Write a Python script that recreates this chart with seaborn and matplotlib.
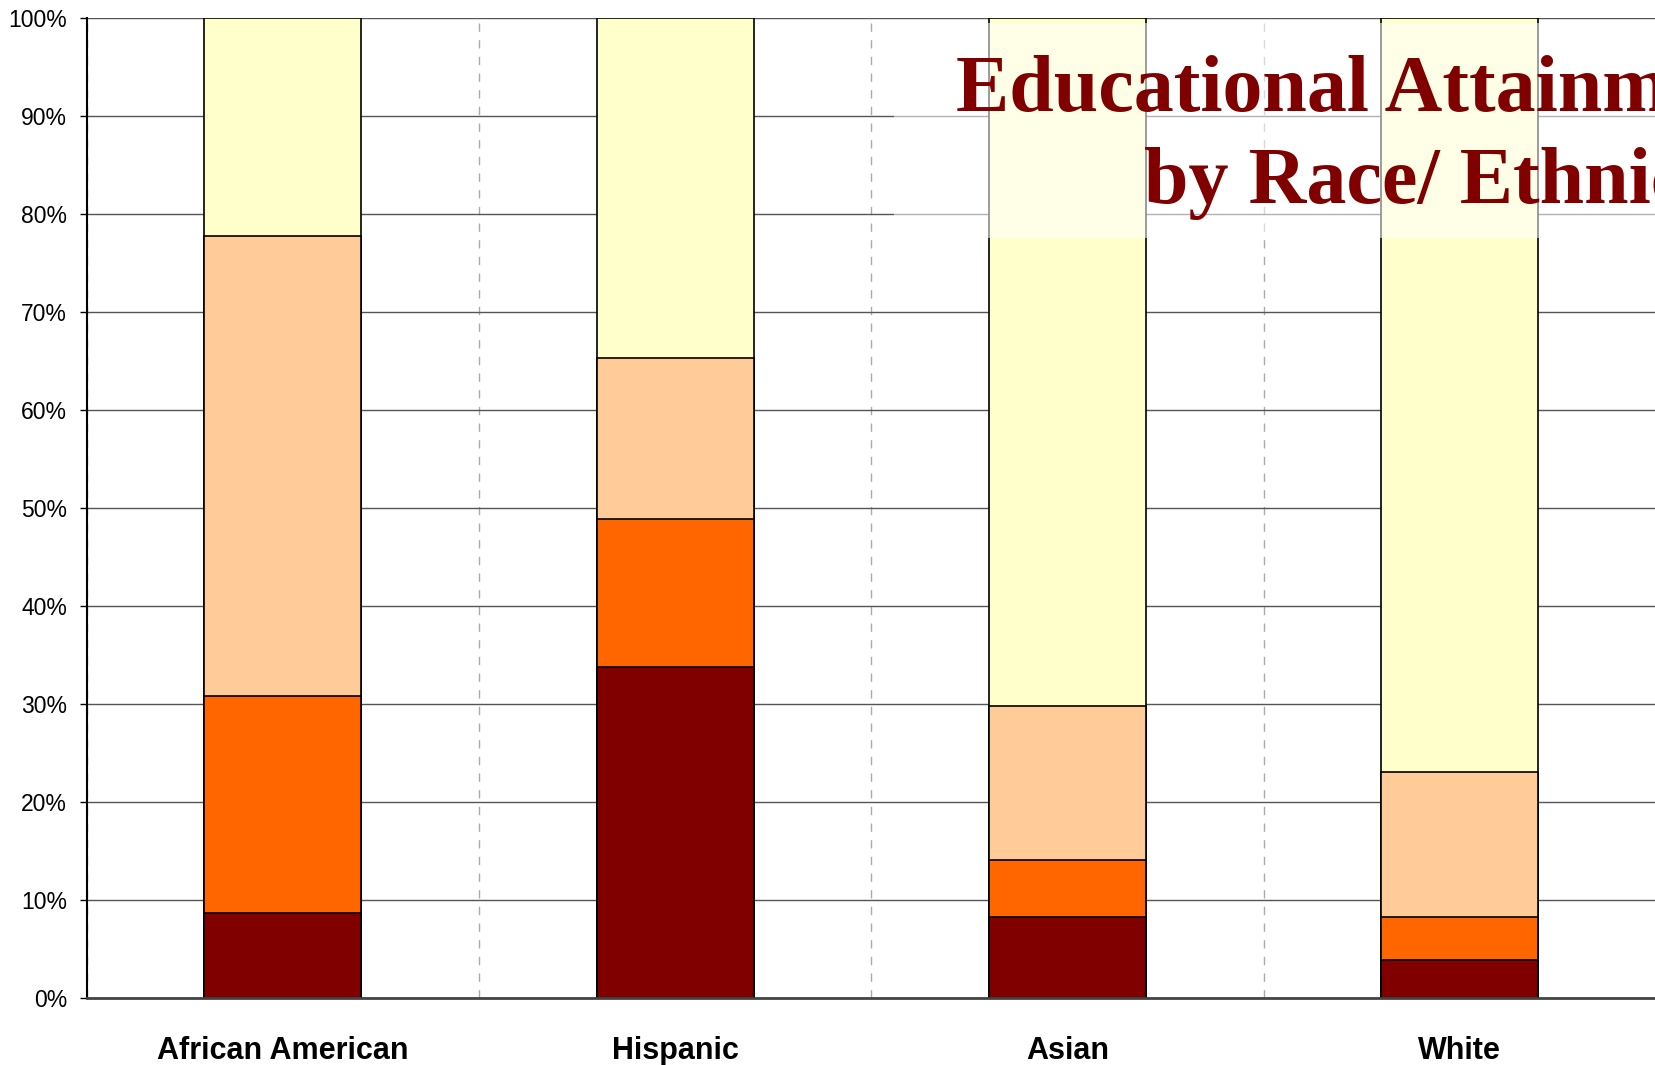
import numpy as np
import pandas as pd
import seaborn as sns
import matplotlib.pyplot as plt
from matplotlib.patches import Rectangle

# data (percent of each group)
groups = ['African American', 'Hispanic', 'Asian', 'White']
less_than_hs = [8.7, 33.8, 8.3, 3.9]
hs_grad = [22.1, 15.1, 5.8, 4.4]
some_college = [47.0, 16.4, 15.7, 14.8]
ba_plus = [22.2, 34.7, 70.2, 76.9]

series = [less_than_hs, hs_grad, some_college, ba_plus]
colors = ['#800000', '#FF6600', '#FFCC99', '#FFFFCC']
yticks = [0, 10, 20, 30, 40, 50, 60, 70, 80, 90, 100]

sns.set_style('white')
plt.rcParams['font.family'] = ['Liberation Sans', 'DejaVu Sans']
plt.rcParams['text.color'] = 'black'
plt.rcParams['xtick.labelcolor'] = 'black'
plt.rcParams['ytick.labelcolor'] = 'black'

fig = plt.figure(figsize=(16.56, 10.65), dpi=100)
ax = fig.add_axes([0.0523, 0.0629, 0.9477, 0.9201])

# stacked bars: draw cumulative totals from the top layer down
cum = np.cumsum(np.array(series), axis=0)
for i in range(len(series) - 1, -1, -1):
    df = pd.DataFrame({'group': groups, 'value': cum[i]})
    sns.barplot(data=df, x='group', y='value', color=colors[i], saturation=1,
                width=0.4, edgecolor='black', linewidth=1.2, ax=ax, zorder=3)

ax.set_xlim(-0.5, len(groups) - 0.5)
ax.set_ylim(0, 100)
ax.set_yticks(yticks)
ax.set_yticklabels([f'{t}%' for t in yticks], fontsize=16.5)
ax.set_xticks(range(len(groups)))
ax.set_xticklabels(groups, fontsize=22, fontweight='bold')
ax.set_xticks(np.arange(-0.5, len(groups), 1.0), minor=True)
ax.tick_params(axis='x', which='major', length=0, pad=27)
ax.tick_params(axis='x', which='minor', length=7, width=1, color='black', direction='out')
ax.tick_params(axis='y', length=5, width=1, color='black', direction='out', pad=9, left=True)
ax.set_xlabel('')
ax.set_ylabel('')

ax.grid(axis='y', which='major', color='#555555', linewidth=1, zorder=0)
ax.grid(axis='x', which='minor', color='#aaaaaa', linewidth=1, linestyle=(0, (6, 6)), zorder=0)
ax.grid(axis='x', which='major', visible=False)
ax.set_axisbelow(True)

for side in ['top', 'right']:
    ax.spines[side].set_visible(False)
ax.spines['left'].set_color('black')
ax.spines['left'].set_linewidth(1.5)
ax.spines['bottom'].set_color('#444444')
ax.spines['bottom'].set_linewidth(2)
ax.spines['left'].set_zorder(5)
ax.spines['bottom'].set_zorder(5)

# semi-transparent title box
fig.patches.append(Rectangle((0.540, 0.7765), 0.47, 0.2015, transform=fig.transFigure,
                             facecolor='white', alpha=0.55, edgecolor='none', zorder=10))
fig.text(1.072, 0.948, 'Educational Attainment\nby Race/ Ethnicity', ha='right', va='top',
         multialignment='right', fontsize=57.6, fontweight='bold', color='#800000',
         family=['Liberation Serif', 'DejaVu Serif'], linespacing=1.34, zorder=11)

fig.savefig('out.png', dpi=100)
